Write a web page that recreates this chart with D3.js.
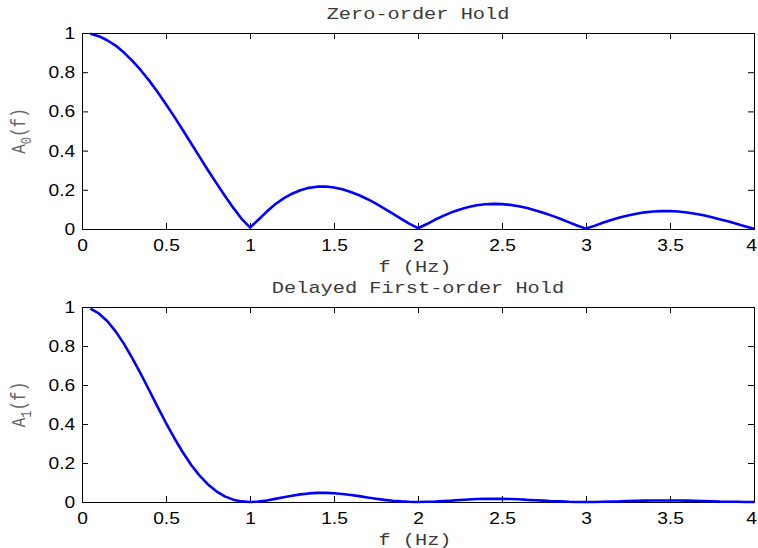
<!DOCTYPE html>
<html>
<head>
<meta charset="utf-8">
<script src="https://cdn.jsdelivr.net/npm/d3@7"></script>
<style>
  body { margin: 0; background: #fff; }
  svg { display: block; }
</style>
</head>
<body>
<svg id="fig" width="758" height="548"></svg>
<script>
// Frequency samples (Hz)
const freq = [
  0.05, 0.10, 0.15, 0.20, 0.25, 0.30, 0.35, 0.40, 0.45, 0.50,
  0.55, 0.60, 0.65, 0.70, 0.75, 0.80, 0.85, 0.90, 0.95, 1.00,
  1.05, 1.10, 1.15, 1.20, 1.25, 1.30, 1.35, 1.40, 1.45, 1.50,
  1.55, 1.60, 1.65, 1.70, 1.75, 1.80, 1.85, 1.90, 1.95, 2.00,
  2.05, 2.10, 2.15, 2.20, 2.25, 2.30, 2.35, 2.40, 2.45, 2.50,
  2.55, 2.60, 2.65, 2.70, 2.75, 2.80, 2.85, 2.90, 2.95, 3.00,
  3.05, 3.10, 3.15, 3.20, 3.25, 3.30, 3.35, 3.40, 3.45, 3.50,
  3.55, 3.60, 3.65, 3.70, 3.75, 3.80, 3.85, 3.90, 3.95, 4.00
];

// Amplitude response of the zero-order hold, A0(f)
const zeroOrderHold = [
  0.996, 0.984, 0.963, 0.936, 0.900, 0.858, 0.810, 0.757, 0.699, 0.637,
  0.572, 0.505, 0.436, 0.368, 0.300, 0.234, 0.170, 0.109, 0.052, 0.008,
  0.047, 0.089, 0.126, 0.156, 0.180, 0.198, 0.210, 0.216, 0.217, 0.212,
  0.203, 0.189, 0.172, 0.152, 0.129, 0.104, 0.078, 0.052, 0.026, 0.004,
  0.024, 0.047, 0.067, 0.085, 0.100, 0.112, 0.121, 0.126, 0.128, 0.127,
  0.123, 0.116, 0.107, 0.095, 0.082, 0.067, 0.051, 0.034, 0.017, 0.002,
  0.016, 0.032, 0.046, 0.059, 0.069, 0.078, 0.085, 0.089, 0.091, 0.091,
  0.089, 0.084, 0.078, 0.070, 0.060, 0.049, 0.038, 0.025, 0.013, 0.001
];

// Amplitude response of the delayed first-order hold, A1(f)
const firstOrderHold = [
  0.992, 0.967, 0.928, 0.875, 0.811, 0.737, 0.657, 0.573, 0.488, 0.405,
  0.327, 0.255, 0.190, 0.135, 0.090, 0.055, 0.029, 0.012, 0.003, 0.000,
  0.002, 0.008, 0.016, 0.024, 0.032, 0.039, 0.044, 0.047, 0.047, 0.045,
  0.041, 0.036, 0.030, 0.023, 0.017, 0.011, 0.006, 0.003, 0.001, 0.000,
  0.001, 0.002, 0.005, 0.007, 0.010, 0.013, 0.015, 0.016, 0.016, 0.016,
  0.015, 0.014, 0.011, 0.009, 0.007, 0.004, 0.003, 0.001, 0.000, 0.000,
  0.000, 0.001, 0.002, 0.003, 0.005, 0.006, 0.007, 0.008, 0.008, 0.008,
  0.008, 0.007, 0.006, 0.005, 0.004, 0.002, 0.001, 0.001, 0.000, 0.000
];

const xTicks = [0, 0.5, 1, 1.5, 2, 2.5, 3, 3.5, 4];
const xTickLabels = ["0", "0.5", "1", "1.5", "2", "2.5", "3", "3.5", "4"];
const yTicks = [0, 0.2, 0.4, 0.6, 0.8, 1];
const yTickLabels = ["0", "0.2", "0.4", "0.6", "0.8", "1"];

const panels = [
  { title: "Zero-order Hold", sub: "0", values: zeroOrderHold, top: 33, bottom: 229 },
  { title: "Delayed First-order Hold", sub: "1", values: firstOrderHold, top: 307, bottom: 502 }
];

const left = 82, right = 754;
const tickLen = 6;
const svg = d3.select("#fig");
const x = d3.scaleLinear().domain([0, 4]).range([left, right]);

const SANS = "'Liberation Sans', Arial, Helvetica, sans-serif";
const MONO = "'Liberation Mono', 'Courier New', monospace";
const sansStretch = 1.13, monoStretch = 1.27;

panels.forEach(p => {
  const y = d3.scaleLinear().domain([0, 1]).range([p.bottom, p.top]);
  const g = svg.append("g");

  // inward ticks on all four sides
  const xb = g.append("g").attr("transform", `translate(0,${p.bottom})`)
    .call(d3.axisBottom(x).tickValues(xTicks).tickSize(-tickLen).tickSizeOuter(0)
      .tickPadding(10).tickFormat((d, i) => xTickLabels[i]));
  const xt = g.append("g").attr("transform", `translate(0,${p.top})`)
    .call(d3.axisTop(x).tickValues(xTicks).tickSize(-tickLen).tickSizeOuter(0).tickFormat(""));
  const yl = g.append("g").attr("transform", `translate(${left},0)`)
    .call(d3.axisLeft(y).tickValues(yTicks).tickSize(-tickLen).tickSizeOuter(0)
      .tickPadding(6).tickFormat((d, i) => yTickLabels[i]));
  const yr = g.append("g").attr("transform", `translate(${right},0)`)
    .call(d3.axisRight(y).tickValues(yTicks).tickSize(-tickLen).tickSizeOuter(0).tickFormat(""));

  [xb, xt, yl, yr].forEach(a => {
    a.select(".domain").remove();
    a.selectAll(".tick line").attr("stroke", "#000").attr("stroke-width", 1);
    a.selectAll(".tick text")
      .attr("fill", "#000")
      .style("font-family", SANS)
      .style("font-size", "17px")
      .attr("transform", `scale(${sansStretch},1)`);
  });

  // keep the last x label inside the figure edge
  xb.selectAll(".tick text").filter(d => d === 4)
    .attr("transform", `translate(-3,0) scale(${sansStretch},1)`);

  // plot frame
  g.append("rect")
    .attr("x", left + 0.5).attr("y", p.top + 0.5)
    .attr("width", right - left).attr("height", p.bottom - p.top)
    .attr("fill", "none").attr("stroke", "#000").attr("stroke-width", 1);

  // response curve
  const line = d3.line().x((d, i) => x(freq[i])).y(d => y(d));
  g.append("path")
    .datum(p.values)
    .attr("d", line)
    .attr("fill", "none")
    .attr("stroke", "#0000ff")
    .attr("stroke-width", 2.6)
    .attr("stroke-linejoin", "round");

  // title
  g.append("text")
    .attr("transform", `translate(${(left + right) / 2},${p.top - 14}) scale(${monoStretch},1)`)
    .attr("text-anchor", "middle")
    .style("font-family", MONO).style("font-size", "16px")
    .attr("fill", "#3a3a3a")
    .text(p.title);

  // x label
  g.append("text")
    .attr("transform", `translate(${(left + right) / 2 - 3},${p.bottom + 43}) scale(${monoStretch},1)`)
    .attr("text-anchor", "middle")
    .style("font-family", MONO).style("font-size", "16px")
    .attr("fill", "#3a3a3a")
    .text("f (Hz)");

  // y label A_n(f)
  const yt = g.append("text")
    .attr("transform", `translate(25,${(p.top + p.bottom) / 2}) scale(${monoStretch},1) rotate(-90)`)
    .attr("text-anchor", "middle")
    .style("font-family", MONO).style("font-size", "16px")
    .attr("fill", "#666");
  yt.append("tspan").text("A");
  yt.append("tspan").attr("dy", 5).style("font-size", "12px").text(p.sub);
  yt.append("tspan").attr("dy", -5).text("(f)");
});
</script>
</body>
</html>
